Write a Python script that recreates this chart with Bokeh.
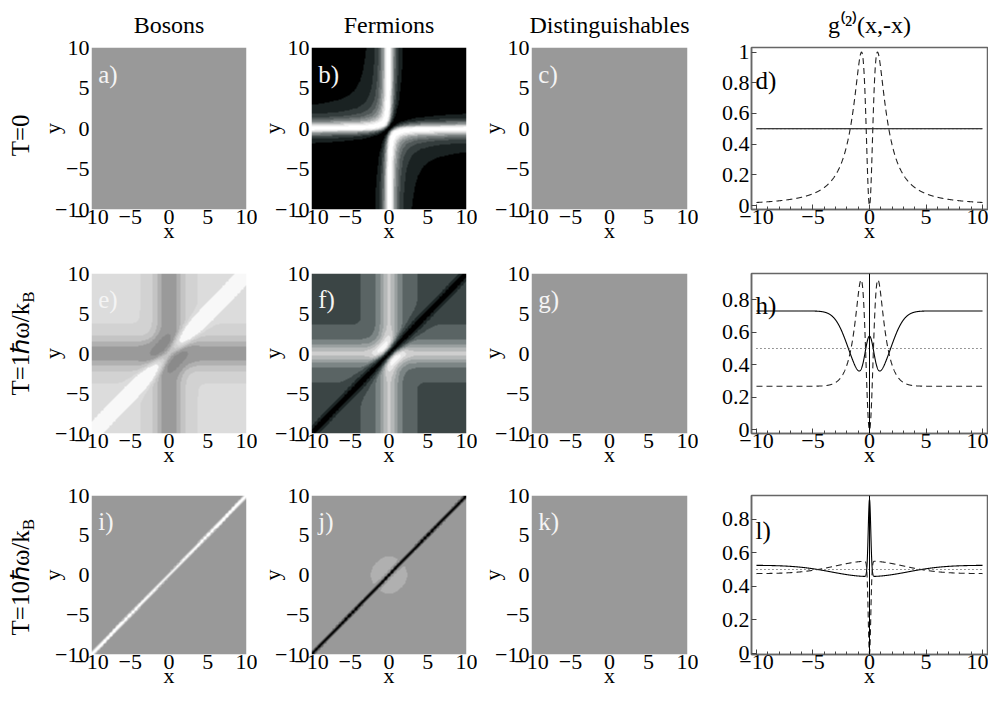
import numpy as np
from bokeh.plotting import figure
from bokeh.layouts import column, row
from bokeh.models import Range1d, Label, Span, FixedTicker
from bokeh.core.properties import value
from bokeh.embed import file_html
from bokeh.resources import INLINE

FONT = "Liberation Serif"

# ---------------- data ----------------
STATS = ["B", "F", "D"]                      # bosons, fermions, distinguishables
COL_TITLES = ["Bosons", "Fermions", "Distinguishables", "g⁽²⁾(x,-x)"]
TEMPS = [0.0, 1.0, 10.0]                     # k_B T / ħω for the three rows
ROW_LABELS = [("T=0", ""), ("T=1ℏω/k", "B"), ("T=10ℏω/k", "B")]
LETTERS = [["a)", "b)", "c)", "d)"], ["e)", "f)", "g)", "h)"], ["i)", "j)", "k)", "l)"]]
XY_TICKS = [-10, -5, 0, 5, 10]
XY_TICK_LABELS = ["−10", "−5", "0", "5", "10"]
G_TICKS = [[0, 0.2, 0.4, 0.6, 0.8, 1.0], [0, 0.2, 0.4, 0.6, 0.8], [0, 0.2, 0.4, 0.6, 0.8]]
G_TICK_LABELS = [["0", "0.2", "0.4", "0.6", "0.8", "1"],
                 ["0", "0.2", "0.4", "0.6", "0.8"],
                 ["0", "0.2", "0.4", "0.6", "0.8"]]
G_RANGES = [(-0.026, 1.03), (-0.0215, 0.961), (-0.007, 0.941)]
X_LINE_RANGE = (-10.44, 10.44)

# contour levels and the gray of each band
CONTOUR_LEVELS = [
    [[], [0.09, 0.18, 0.27, 0.36, 0.45, 0.55, 0.64, 0.73, 0.82, 0.91], []],
    [[0.42, 0.50, 0.56, 0.64, 0.725, 0.85], [0.05, 0.15, 0.272, 0.35, 0.45, 0.55, 0.65, 0.75, 0.85], []],
    [[0.6, 0.75, 0.9], [0.1, 0.25, 0.4, 0.54], []],
]
CONTOUR_GRAYS = [
    [["#999999"],
     ["#000000", "#1a2222", "#343d3d", "#505858", "#6c7373", "#888e8e", "#a5a9a9", "#c2c4c4", "#dedfdf", "#f0f0f0", "#ffffff"],
     ["#999999"]],
    [["#8a8a8a", "#9a9a9a", "#b0b0b0", "#c4c4c4", "#d2d2d2", "#dcdcdc", "#f8f8f8"],
     ["#000000", "#1c2525", "#3b4545", "#5a6464", "#7c8585", "#9aa0a0", "#b5b8b8", "#cfcfcf", "#e6e6e6", "#f8f8f8"],
     ["#999999"]],
    [["#999999", "#bbbbbb", "#dddddd", "#ffffff"],
     ["#000000", "#333333", "#666666", "#999999", "#b0b0b0"],
     ["#999999"]],
]


def g2(stat, T, X, Y):
    """Normalised pair correlation of two particles in a harmonic trap (canonical ensemble)."""
    X = np.asarray(X, float)
    Y = np.asarray(Y, float)
    if stat == "D":
        return np.full(np.broadcast(X, Y).shape, 0.5)
    if T == 0:
        if stat == "B":
            return np.full(np.broadcast(X, Y).shape, 0.5)
        return 2 * (X - Y) ** 2 / ((1 + 2 * X ** 2) * (1 + 2 * Y ** 2))
    b = 1.0 / T
    s = 1.0 if stat == "B" else -1.0
    z1 = 1 / (2 * np.sinh(b / 2))
    z2 = 1 / (2 * np.sinh(b))
    pref = 0.5 * (1 + s * z2 / z1 ** 2)
    ex = np.exp(-(X - Y) ** 2 / np.sinh(b))
    c = np.sqrt(np.sinh(b) / np.sinh(2 * b)) / z1
    k = np.tanh(b) - np.tanh(b / 2)
    rx = c * np.exp(-k * X ** 2)
    ry = c * np.exp(-k * Y ** 2)
    return pref * (1 + s * ex) / ((1 + s * rx) * (1 + s * ry))


# ---------------- layout (pixels) ----------------
LAB_W = 37
COL_W = [220, 220, 221, 290]
COL_BL = [48, 48, 48, 53]
COL_BR = [11, 11, 11, 1]
ROW_H = [249, 224, 229]
ROW_BT_C = [47, 24, 22]
ROW_BB_C = [40, 40, 46]
ROW_BT_G = [47, 15, 15]
ROW_BB_G = [40, 40, 48]


def hex2u32(h):
    h = h.lstrip("#")
    r, g, b = int(h[0:2], 16), int(h[2:4], 16), int(h[4:6], 16)
    return np.uint32(r | (g << 8) | (b << 16) | (255 << 24))


def style_axes(p):
    for ax in (p.xaxis[0], p.yaxis[0]):
        ax.major_label_text_font = FONT
        ax.major_label_text_font_size = "22px"
        ax.major_label_text_color = "black"
        ax.axis_label_text_font = FONT
        ax.axis_label_text_font_size = "22px"
        ax.axis_label_text_font_style = "normal"
        ax.axis_label_text_color = "black"
    p.xaxis.major_label_standoff = 0
    p.yaxis.major_label_standoff = 2
    p.xaxis.axis_label = "x"
    p.xaxis.axis_label_standoff = -9


def set_title(p):
    p.title.align = "center"
    p.title.text_font = FONT
    p.title.text_font_size = "24px"
    p.title.text_font_style = "normal"
    p.title.text_color = "black"
    p.title.standoff = 19


N = 361
grid = np.linspace(-10, 10, N)
GX, GY = np.meshgrid(grid, grid)
XL = np.linspace(-10, 10, 2001)

rows = []
for r in range(3):
    T = TEMPS[r]
    H = ROW_H[r]
    # row label strip
    q = figure(width=LAB_W, height=H, x_range=Range1d(0, LAB_W), y_range=Range1d(0, H),
               output_backend="svg", toolbar_location=None,
               x_axis_type=None, y_axis_type=None,
               min_border_left=0, min_border_right=0, min_border_top=0, min_border_bottom=0)
    q.grid.visible = False
    q.outline_line_color = None
    q.border_fill_color = "white"
    main, sub = ROW_LABELS[r]
    if not sub:
        q.text(x=[20], y=[114], text=[main], angle=np.pi / 2, text_align="center",
               text_baseline="middle", text_font=value(FONT),
               text_font_size=value("25px"), text_color="black")
    else:
        ysplit = [0, 183, 179][r]
        q.text(x=[20], y=[ysplit], text=[main], angle=np.pi / 2, text_align="right",
               text_baseline="middle", text_font=value(FONT),
               text_font_size=value("25px"), text_color="black")
        q.text(x=[27.5], y=[ysplit], text=[sub], angle=np.pi / 2, text_align="left",
               text_baseline="middle", text_font=value(FONT),
               text_font_size=value("17px"), text_color="black")
    figs = [q]

    for c in range(3):
        p = figure(width=COL_W[c], height=H,
                   x_range=Range1d(-10, 10), y_range=Range1d(-10, 10),
                   output_backend="svg", toolbar_location=None,
                   min_border_left=COL_BL[c], min_border_right=COL_BR[c],
                   min_border_top=ROW_BT_C[r], min_border_bottom=ROW_BB_C[r],
                   title=COL_TITLES[c] if r == 0 else None)
        if r == 0:
            set_title(p)
        p.grid.visible = False
        p.outline_line_color = None
        p.border_fill_color = "white"
        field = g2(STATS[c], T, GX, GY)
        band = np.digitize(field, CONTOUR_LEVELS[r][c])
        pal = np.array([hex2u32(h) for h in CONTOUR_GRAYS[r][c]], dtype=np.uint32)
        img = pal[band]
        p.image_rgba(image=[img], x=-10, y=-10, dw=20, dh=20)
        style_axes(p)
        p.yaxis.axis_label = "y"
        p.yaxis.axis_label_standoff = -13
        for ax in (p.xaxis[0], p.yaxis[0]):
            ax.ticker = FixedTicker(ticks=XY_TICKS)
            ax.major_label_overrides = {t: s for t, s in zip(XY_TICKS, XY_TICK_LABELS)}
            ax.major_tick_in = 0
            ax.major_tick_out = 0
            ax.minor_tick_in = 0
            ax.minor_tick_out = 0
            ax.axis_line_color = None
        p.add_layout(Label(x=-9.13, y=6.7, text=LETTERS[r][c], text_align="left",
                           text_baseline="alphabetic", text_font=FONT,
                           text_font_size="25px", text_color="#f4f4f4"))
        figs.append(p)

    # g2(x,-x) panel
    c = 3
    p = figure(width=COL_W[c], height=H,
               x_range=Range1d(*X_LINE_RANGE), y_range=Range1d(*G_RANGES[r]),
               output_backend="svg", toolbar_location=None,
               min_border_left=COL_BL[c], min_border_right=COL_BR[c],
               min_border_top=ROW_BT_G[r], min_border_bottom=ROW_BB_G[r],
               title=COL_TITLES[c] if r == 0 else None)
    if r == 0:
        set_title(p)
    p.grid.visible = False
    p.outline_line_color = "#666666"
    p.outline_line_width = 1.5
    p.border_fill_color = "white"
    style_axes(p)
    p.xaxis.ticker = FixedTicker(ticks=XY_TICKS, minor_ticks=list(np.arange(-10, 10.5, 1.0)))
    p.xaxis.major_label_overrides = {t: s for t, s in zip(XY_TICKS, XY_TICK_LABELS)}
    p.yaxis.ticker = FixedTicker(ticks=G_TICKS[r])
    p.yaxis.major_label_overrides = {t: s for t, s in zip(G_TICKS[r], G_TICK_LABELS[r])}
    for ax in (p.xaxis[0], p.yaxis[0]):
        ax.major_tick_in = 5
        ax.major_tick_out = 0
        ax.minor_tick_in = 3
        ax.minor_tick_out = 0
        ax.axis_line_color = "#666666"
        ax.axis_line_width = 1.5
        ax.major_tick_line_color = "#444444"
        ax.minor_tick_line_color = "#444444"
    if r > 0:
        p.add_layout(Span(location=0, dimension="height", line_color="black", line_width=1))
    p.line(XL, g2("B", T, XL, -XL), line_color="black", line_width=1.1)
    p.line(XL, g2("F", T, XL, -XL), line_color="#222222", line_width=1.1, line_dash="6 4")
    p.line(XL, g2("D", T, XL, -XL), line_color="#333333", line_width=1.1, line_dash="1 3")
    ly = [0.815, 0.763, 0.730][r]
    p.add_layout(Label(x=-10.09, y=ly, text=LETTERS[r][3], text_align="left",
                       text_baseline="alphabetic", text_font=FONT,
                       text_font_size="25px", text_color="black"))
    figs.append(p)
    rows.append(row(*figs))

layout = column(*rows)
open("out.html", "w").write(file_html(layout, INLINE))
